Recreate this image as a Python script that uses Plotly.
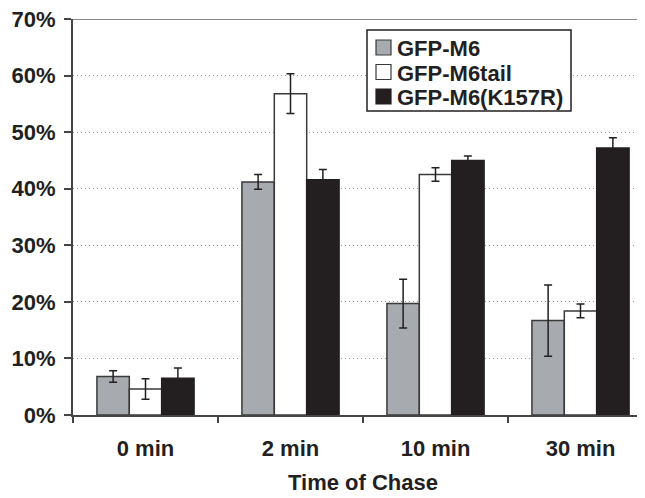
import plotly.graph_objects as go

categories = ["0 min", "2 min", "10 min", "30 min"]
series_names = ["GFP-M6", "GFP-M6tail", "GFP-M6(K157R)"]
m6 = [6.8, 41.2, 19.7, 16.7]
m6_err = [1.0, 1.3, 4.3, 6.3]
m6tail = [4.6, 56.8, 42.5, 18.4]
m6tail_err = [1.8, 3.5, 1.2, 1.2]
k157r = [6.5, 41.6, 45.0, 47.2]
k157r_err = [1.8, 1.8, 0.8, 1.8]
y_ticks = [0, 10, 20, 30, 40, 50, 60, 70]
y_tick_labels = ["0%", "10%", "20%", "30%", "40%", "50%", "60%", "70%"]
y_max = 70

fills = ["#a7aaaf", "#ffffff", "#231f20"]
edges = ["#3a3a3a", "#3a3a3a", "#231f20"]
ink = "#231f20"
font_family = "Liberation Sans, Arial, sans-serif"

# figure geometry (the page adds an 8px body margin)
W, H = 645, 498
ML, MR, MT, MB = 65, 0, 11, 91
# plot area in screen pixels
SX0, SX1, SY0, SY1 = 73, 653, 19, 415


def px_x(px):
    return (px - SX0) / (SX1 - SX0)


def px_y(py):
    return (SY1 - py) / (SY1 - SY0)


fig = go.Figure()
for name, vals, errs, fc, ec in zip(series_names, [m6, m6tail, k157r],
                                    [m6_err, m6tail_err, k157r_err], fills, edges):
    fig.add_trace(go.Bar(
        x=categories, y=vals, name=name, showlegend=False,
        marker=dict(color=fc, line=dict(color=ec, width=1.5)),
        error_y=dict(type="data", array=errs, color=ink, thickness=1.5, width=4),
    ))

# top border gridline at the axis maximum
shapes = [dict(type="line", xref="paper", yref="y", x0=0, x1=1, y0=y_max, y1=y_max,
               line=dict(color="#8a8a8a", width=2), layer="below")]

# hand-drawn compact legend box
shapes.append(dict(type="rect", xref="paper", yref="paper",
                   x0=px_x(367), x1=px_x(571), y0=px_y(111), y1=px_y(30),
                   line=dict(color=ink, width=1.5), fillcolor="white", layer="above"))
annotations = []
row_y = [47.5, 72, 96.5]
for name, fc, ec, ry in zip(series_names, fills, edges, row_y):
    shapes.append(dict(type="rect", xref="paper", yref="paper",
                       x0=px_x(376), x1=px_x(391), y0=px_y(ry + 7.5), y1=px_y(ry - 7.5),
                       line=dict(color=ec, width=1.2), fillcolor=fc, layer="above"))
    annotations.append(dict(xref="paper", yref="paper", x=px_x(395), y=px_y(ry + 1),
                            text=name, showarrow=False, xanchor="left", yanchor="middle",
                            font=dict(size=22, weight="bold", family=font_family, color=ink)))

fig.update_layout(
    width=W, height=H,
    margin=dict(l=ML, r=MR, t=MT, b=MB),
    paper_bgcolor="white", plot_bgcolor="white",
    barmode="group", bargap=0.33, bargroupgap=0,
    font=dict(family=font_family, color=ink, size=22, weight="bold"),
    showlegend=False,
    shapes=shapes, annotations=annotations,
    xaxis=dict(
        type="category", range=[-0.5, 3.5],
        showline=True, linecolor="#444", linewidth=2,
        ticks="outside", tickson="boundaries", ticklen=6, tickcolor="#444", tickwidth=1.5,
        tickfont=dict(size=22, weight="bold"), ticklabelstandoff=13,
        title=dict(text="Time of Chase", font=dict(size=22, weight="bold"), standoff=14),
        showgrid=False, zeroline=False,
    ),
    yaxis=dict(
        range=[0, y_max], tickvals=y_ticks, ticktext=y_tick_labels,
        showline=True, linecolor="#444", linewidth=2,
        ticks="outside", ticklen=7, tickcolor="#444", tickwidth=1.5,
        tickfont=dict(size=22, weight="bold"), ticklabelstandoff=4,
        ticklabeloverflow="allow",
        showgrid=True, gridcolor="#999", griddash="1px,3px", gridwidth=1,
        zeroline=False,
    ),
)
fig.write_html("out.html")
